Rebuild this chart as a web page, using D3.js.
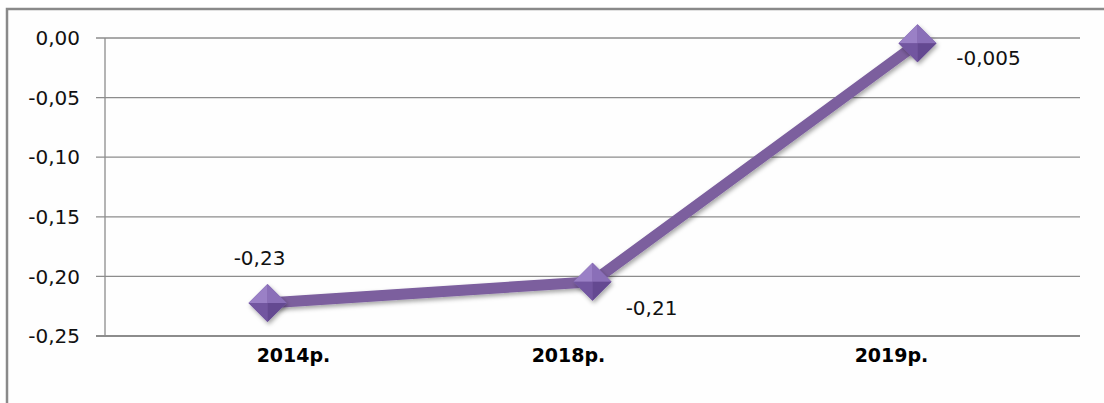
<!DOCTYPE html>
<html><head><meta charset="utf-8">
<script src="https://cdn.jsdelivr.net/npm/d3@7"></script>
<style>body{margin:0;background:#fff}svg{display:block}</style>
</head><body><svg id="c" width="1104" height="403"></svg>
<script>
const categories = ["2014р.", "2018р.", "2019р."];
const values = [-0.2223, -0.2044, -0.0045];
const valueLabels = ["-0,23", "-0,21", "-0,005"];
const yTicks = [0, -0.05, -0.10, -0.15, -0.20, -0.25];
const yTickLabels = ["0,00", "-0,05", "-0,10", "-0,15", "-0,20", "-0,25"];

const svg = d3.select("#c");
const font = "'DejaVu Sans', sans-serif";
const L = 105, R = 1080, T = 38, B = 336;

// outer frame
svg.append("rect").attr("x", 7).attr("y", 9).attr("width", 1110).attr("height", 420)
  .attr("fill", "#fefefe").attr("stroke", "#8a8a8a").attr("stroke-width", 2.5);

const x = d3.scaleBand().domain(categories).range([L, R]);
const y = d3.scaleLinear().domain([-0.25, 0]).range([B, T]);

// gridlines
svg.append("g").selectAll("line").data(yTicks).join("line")
  .attr("x1", L - 9).attr("x2", R).attr("y1", d => y(d)).attr("y2", d => y(d))
  .attr("stroke", "#8c8c8c").attr("stroke-width", d => d === -0.25 ? 2 : 1.3);
svg.append("line").attr("x1", L).attr("x2", L).attr("y1", T).attr("y2", B)
  .attr("stroke", "#8c8c8c").attr("stroke-width", 1.3);

// y labels
svg.append("g").selectAll("text").data(yTicks).join("text")
  .attr("x", 80).attr("y", d => y(d)).attr("dy", "0.36em").attr("text-anchor", "end")
  .attr("font-family", font).attr("font-size", 20).attr("fill", "#111")
  .text((d, i) => yTickLabels[i]);

// x labels (offsets as in the reference rendering)
const xLabelOff = [26, -24, -26];
svg.append("g").selectAll("text").data(categories).join("text")
  .attr("x", (d, i) => x(d) + x.bandwidth() / 2 + xLabelOff[i]).attr("y", 362).attr("text-anchor", "middle")
  .attr("font-family", font).attr("font-weight", "bold").attr("font-size", 19).attr("fill", "#000")
  .text(d => d);

const defs = svg.append("defs");
const f = defs.append("filter").attr("id", "sh").attr("x", "-50%").attr("y", "-50%").attr("width", "200%").attr("height", "200%");
f.append("feDropShadow").attr("dx", 1.5).attr("dy", 2.5).attr("stdDeviation", 2).attr("flood-color", "#000").attr("flood-opacity", 0.35);

const pts = categories.map((c, i) => [x(c) + x.bandwidth() / 2, y(values[i])]);

svg.append("path").attr("d", d3.line()(pts)).attr("fill", "none")
  .attr("stroke", "#7b5e9e").attr("stroke-width", 11).attr("stroke-linejoin", "round")
  .attr("filter", "url(#sh)");

// diamond markers with facets
const s = 19;
const mk = svg.append("g").selectAll("g").data(pts).join("g")
  .attr("transform", d => `translate(${d[0]},${d[1]})`);
mk.append("path").attr("d", `M0,${-s}L${s},0L0,${s}L${-s},0Z`).attr("fill", "#7f62a8").attr("filter", "url(#sh)");
mk.append("path").attr("d", `M0,${-s}L${-s},0L0,0Z`).attr("fill", "#9a80c6");
mk.append("path").attr("d", `M0,${-s}L${s},0L0,0Z`).attr("fill", "#8a6fb8");
mk.append("path").attr("d", `M${-s},0L0,${s}L0,0Z`).attr("fill", "#7256a0");
mk.append("path").attr("d", `M${s},0L0,${s}L0,0Z`).attr("fill", "#644991");

// value labels
const offs = [[-8, -38], [59, 33], [71, 22]];
svg.append("g").selectAll("text").data(pts).join("text")
  .attr("x", (d, i) => d[0] + offs[i][0]).attr("y", (d, i) => d[1] + offs[i][1])
  .attr("text-anchor", "middle").attr("font-family", font).attr("font-size", 20).attr("fill", "#111")
  .text((d, i) => valueLabels[i]);
</script></body></html>
